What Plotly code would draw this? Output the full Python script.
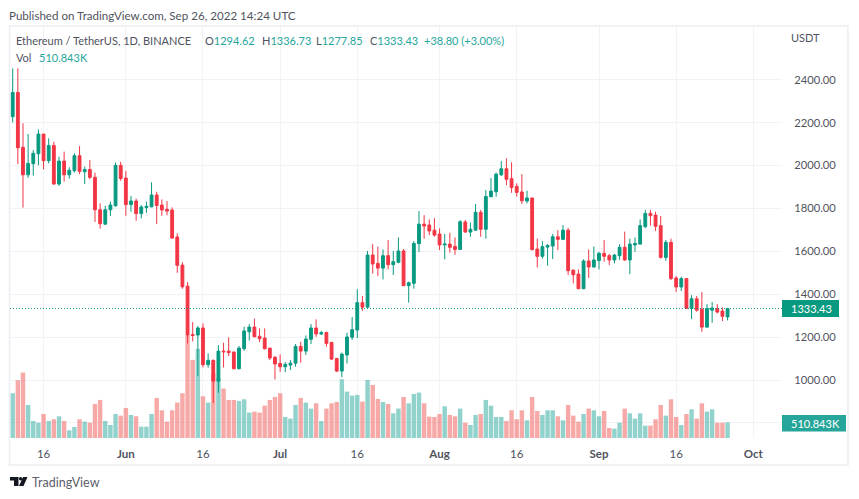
import pandas as pd
import plotly.graph_objects as go

dates = pd.date_range("2022-05-10", periods=140, freq="D")

opens = [2228,2341,2085,1957,2009,2055,2147,2023,2093,1914,2021,1957,1976,2046,1971,1982,1945,1794,1727,1794,
1813,2001,1942,1818,1835,1776,1804,1808,1863,1816,1796,1793,1667,1536,1438,1212,1210,1243,1072,1092,
995,1135,1135,1131,1053,1146,1225,1247,1204,1196,1149,1106,1078,1062,1070,1079,1157,1135,1190,1243,
1215,1222,1176,1101,1042,1117,1200,1233,1361,1340,1583,1544,1522,1580,1538,1549,1602,1440,1451,1636,
1727,1723,1699,1681,1630,1634,1623,1609,1737,1690,1699,1782,1703,1855,1878,1957,1985,1939,1903,1877,
1835,1849,1611,1577,1620,1625,1668,1656,1699,1513,1494,1426,1555,1527,1557,1591,1580,1560,1580,1619,
1560,1630,1634,1715,1777,1769,1720,1572,1642,1476,1434,1473,1334,1379,1330,1247,1326,1333,1322,1294.62]
highs = [2453,2453,2197,2147,2072,2169,2147,2127,2111,2041,2065,1992,2057,2091,1995,2026,1967,1824,1813,1832,
2015,2018,1975,1858,1846,1816,1832,1922,1878,1842,1835,1805,1684,1550,1457,1270,1252,1264,1124,1096,
1163,1174,1199,1131,1159,1249,1261,1286,1241,1241,1149,1112,1120,1084,1093,1168,1179,1208,1261,1283,
1229,1225,1176,1101,1128,1221,1294,1424,1392,1602,1634,1622,1609,1653,1602,1665,1611,1459,1648,1788,
1769,1749,1755,1707,1681,1687,1665,1746,1746,1734,1821,1793,1886,1942,1967,2021,2034,2015,1917,1960,
1883,1849,1659,1648,1633,1681,1699,1723,1709,1513,1516,1563,1609,1623,1598,1653,1588,1588,1634,1692,
1659,1665,1749,1793,1793,1785,1765,1653,1659,1485,1482,1473,1396,1392,1410,1354,1364,1354,1339,1336.73]
lows = [2201,2007,1804,1943,1953,2002,1982,2010,1911,1905,1925,1939,1967,1960,1914,1936,1737,1706,1724,1765,
1808,1929,1766,1785,1743,1754,1780,1805,1727,1766,1768,1659,1500,1426,1171,1180,1019,1059,1058,893,
941,1059,1112,1050,1050,1137,1184,1199,1177,1143,1093,1003,1039,1037,1047,1062,1081,1117,1168,1202,
1210,1156,1093,1037,1013,1078,1187,1196,1323,1337,1497,1485,1469,1516,1490,1544,1440,1361,1426,1597,
1659,1676,1668,1606,1563,1594,1584,1606,1687,1668,1696,1668,1659,1852,1855,1951,1908,1873,1855,1821,
1824,1605,1525,1566,1533,1564,1606,1653,1490,1451,1424,1424,1476,1525,1516,1552,1536,1544,1560,1556,
1494,1598,1631,1709,1720,1695,1567,1556,1466,1410,1415,1331,1284,1319,1225,1243,1267,1311,1275,1277.85]
closes = [2341,2083,1957,2010,2057,2147,2023,2093,1914,2021,1957,1978,2046,1973,1982,1945,1794,1729,1794,1816,
2001,1940,1818,1835,1776,1807,1810,1863,1814,1793,1788,1662,1535,1435,1211,1208,1243,1072,1092,995,
1135,1132,1128,1053,1149,1229,1247,1202,1193,1146,1103,1075,1062,1073,1079,1157,1135,1191,1243,1215,
1221,1171,1098,1042,1121,1201,1235,1361,1340,1583,1541,1522,1580,1538,1552,1602,1440,1454,1637,1727,
1718,1695,1676,1630,1634,1619,1609,1738,1690,1703,1782,1703,1856,1881,1960,1985,1936,1898,1875,1836,
1849,1608,1577,1622,1628,1668,1656,1699,1510,1491,1426,1555,1527,1560,1591,1577,1560,1583,1619,1560,
1634,1637,1720,1777,1766,1717,1572,1642,1473,1434,1473,1334,1379,1326,1247,1334,1336,1317,1297,1333.43]
volumes_k = [1454,1877,2127,1074,553,499,781,553,608,705,553,250,358,608,532,499,1107,1237,553,423,
781,727,977,749,705,369,369,781,1302,901,532,901,1150,1454,3353,2539,2897,1356,1150,2105,
1942,1606,1237,1237,1204,1259,825,857,825,1052,1237,1335,1454,684,629,1074,1302,1150,955,1128,
553,955,1128,1172,1910,1508,1378,1400,1183,1888,1725,1269,1172,1107,803,955,1335,1128,1432,1476,
1128,694,684,781,1031,749,705,955,499,423,749,781,1237,1052,684,684,553,901,608,901,
575,1335,879,749,901,901,705,575,1074,727,532,781,955,901,705,879,326,304,499,955,
803,629,803,401,401,608,1074,727,1259,684,423,781,933,629,1128,857,933,499,499,510.843]

price_ticks = [800,1000,1200,1400,1600,1800,2000,2200,2400]
price_labels = ["","1000.00","1200.00","1400.00","1600.00","1800.00","2000.00","2200.00","2400.00"]
time_ticks = ["2022-05-16","2022-06-01","2022-06-16","2022-07-01","2022-07-16","2022-08-01","2022-08-16","2022-09-01","2022-09-16","2022-10-01"]
time_labels = ["16","<b>Jun</b>","16","<b>Jul</b>","16","<b>Aug</b>","16","<b>Sep</b>","16","<b>Oct</b>"]

W, H = 859, 499
L, R, T, B = 10, 782, 27, 438
FONT = "Lato"
UP, DOWN = "#089981", "#F23645"
VUP, VDOWN = "rgba(38,166,154,0.5)", "rgba(239,83,80,0.5)"
GRID = "#f2f3f6"
TEXT = "#50535E"

def px(x): return (x - L) / (R - L)
def py(y): return (B - y) / (B - T)

fig = go.Figure()
fig.add_bar(x=dates, y=volumes_k, yaxis="y",
            marker=dict(color=[VUP if c >= o else VDOWN for o, c in zip(opens, closes)], line_width=0))
fig.add_candlestick(x=dates, open=opens, high=highs, low=lows, close=closes, yaxis="y2",
                    whiskerwidth=0,
                    increasing=dict(line=dict(color=UP, width=1), fillcolor=UP),
                    decreasing=dict(line=dict(color=DOWN, width=1), fillcolor=DOWN))

def note(x, y, text, size=11, color=TEXT):
    return dict(xref="paper", yref="paper", x=px(x), y=py(y), text=text, showarrow=False,
                xanchor="left", yanchor="middle", xshift=-1, borderpad=0, borderwidth=0,
                font=dict(family=FONT, size=size, color=color))

G = "#26A69A"
def span(t): return f'<span style="color:{G}">{t}</span>'
annots = [
    note(10, 15, "Published on TradingView.com, Sep 26, 2022 14:24 UTC", 11.6),
    note(17, 41, "Ethereum / TetherUS, 1D, BINANCE"),
    note(206, 41, "O" + span("1294.62")),
    note(263, 41, "H" + span("1336.73")),
    note(317, 41, "L" + span("1277.85")),
    note(371, 41, "C" + span("1333.43")),
    note(425, 41, span("+38.80 (+3.00%)")),
    note(17, 57, "Vol"),
    note(40, 57, span("510.843K")),
    note(792, 38, "USDT"),
    note(792, 308.5, "1333.43", 11, "#ffffff"),
    note(792, 423, "510.843K", 11, "#ffffff"),
    note(33, 482, "TradingView", 12.5, "#5d606b"),
]

def box(x0, y0, x1, y1, **kw):
    return dict(type="rect", xref="paper", yref="paper", x0=px(x0), x1=px(x1), y0=py(y0), y1=py(y1), layer="above", **kw)

def logo_path():
    P = lambda x, y: f"{px(x):.5f},{py(y):.5f}"
    t = "M" + " L".join(P(*p) for p in [(10, 477), (18.5, 477), (18.5, 486), (14, 486), (14, 480.5), (10, 480.5)]) + " Z"
    s = "M" + " L".join(P(*p) for p in [(23, 477), (27.5, 477), (23.5, 486), (19, 486)]) + " Z"
    return t + " " + s

shapes = [
    box(9.5, 26, 848, 465, line=dict(color="#eceef3", width=1.5)),
    dict(type="line", xref="paper", yref="y2", x0=0, x1=1, y0=closes[-1], y1=closes[-1],
         line=dict(color=UP, width=1, dash="1px,2px"), layer="above"),
    box(782, 300, 839, 317, fillcolor=UP, line_width=0),
    box(782, 415, 846, 431.5, fillcolor=G, line_width=0),
    dict(type="path", xref="paper", yref="paper", path=logo_path(), fillcolor="#131722", line_width=0, layer="above"),
    dict(type="circle", xref="paper", yref="paper", x0=px(18.9), x1=px(22.3), y0=py(477), y1=py(480.6),
         fillcolor="#131722", line_width=0, layer="above"),
]

fig.update_layout(
    width=W, height=H, margin=dict(l=L, r=W - R, t=T, b=H - B),
    paper_bgcolor="white", plot_bgcolor="white", showlegend=False, boxgap=0.22,
    bargap=0.14, font=dict(family=FONT, size=11, color=TEXT),
    xaxis=dict(type="date", range=["2022-05-09 11:24", "2022-10-06 14:00"], rangeslider=dict(visible=False),
               tickmode="array", tickvals=time_ticks, ticktext=time_labels, tickangle=0,
               showgrid=True, gridcolor=GRID, gridwidth=1, ticks="outside", ticklen=5, tickcolor="rgba(0,0,0,0)",
               showline=False, zeroline=False, tickfont=dict(family=FONT, size=11.5, color=TEXT)),
    yaxis=dict(range=[0, 13357], showticklabels=False, showgrid=False, zeroline=False, showline=False, ticks=""),
    yaxis2=dict(overlaying="y", side="right", range=[730, 2646], tickmode="array",
                tickvals=price_ticks, ticktext=price_labels, showgrid=True, gridcolor=GRID, gridwidth=1,
                ticks="outside", ticklen=9, tickcolor="rgba(0,0,0,0)", zeroline=False, showline=False,
                tickfont=dict(family=FONT, size=11.2, color=TEXT)),
    annotations=annots, shapes=shapes,
)
fig.write_html("out.html", config=dict(displayModeBar=False), post_script="document.body.style.margin='0';")
